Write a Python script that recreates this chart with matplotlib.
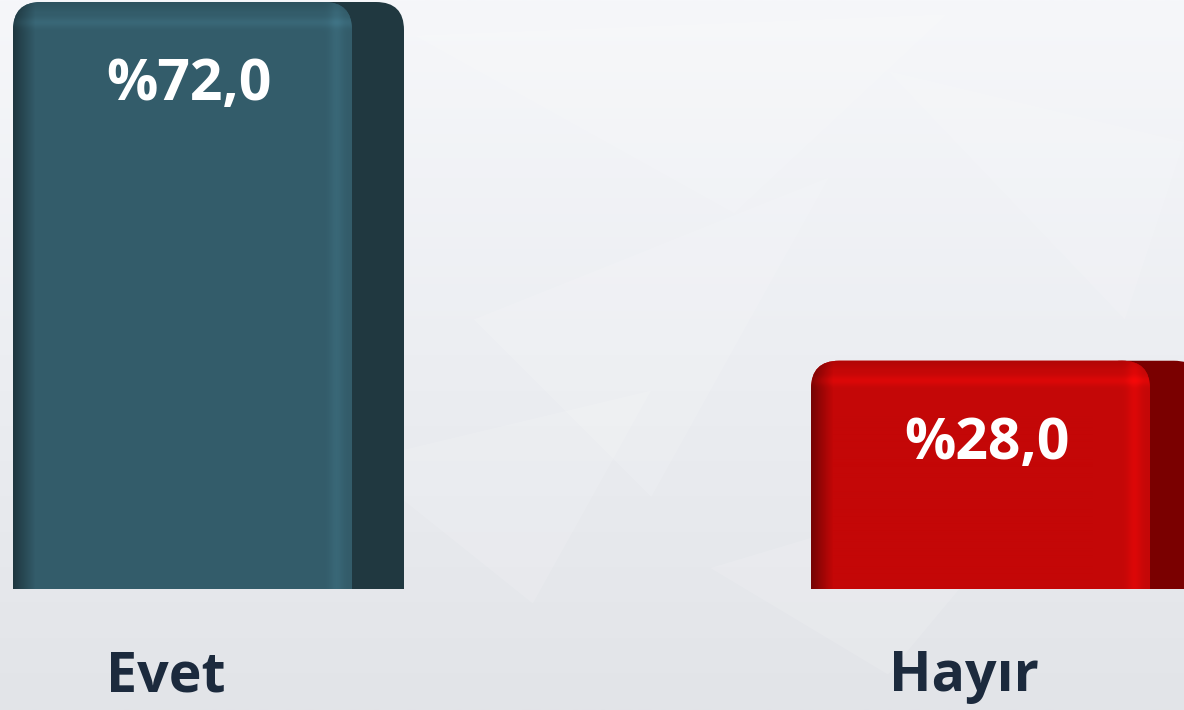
import numpy as np
import matplotlib
matplotlib.use("Agg")
import matplotlib.pyplot as plt
import matplotlib.colors as mcolors
from matplotlib.patches import FancyBboxPatch, Polygon

# ---- data ----
categories = ["Evet", "Hayır"]
values = [72.0, 28.0]
value_labels = ["%72,0", "%28,0"]
front_colors = ["#335C6A", "#C40707"]
side_colors = ["#203840", "#7A0000"]

W, H = 1184, 710
DPI = 100
fig = plt.figure(figsize=(W / DPI, H / DPI), dpi=DPI)

# background gradient
bg = fig.add_axes([0, 0, 1, 1])
bg.axis("off")
grad = np.linspace(0, 1, 256)[:, None]
bgcmap = mcolors.LinearSegmentedColormap.from_list("bg", ["#f6f7fa", "#eceef2", "#e2e4e8"])
bg.imshow(grad, aspect="auto", cmap=bgcmap, extent=[0, 1, 0, 1], origin="upper", zorder=0)
# faint facets
facets = [
    [(0.35, 0.95), (0.62, 0.70), (0.80, 0.98)],
    [(0.40, 0.55), (0.70, 0.75), (0.55, 0.30)],
    [(0.75, 0.90), (1.0, 0.80), (0.95, 0.55)],
    [(0.30, 0.35), (0.55, 0.45), (0.45, 0.15)],
    [(0.60, 0.20), (0.90, 0.35), (0.75, 0.05)],
]
for f in facets:
    bg.add_patch(Polygon(f, closed=True, facecolor="white", alpha=0.12,
                         edgecolor="none", transform=bg.transAxes))
bg.set_xlim(0, 1)
bg.set_ylim(0, 1)

# main axes: y=0 at pixel 589 from top, y=72 at pixel 2
bottom_px, top_px = 589, 2
ax = fig.add_axes([0, (H - bottom_px) / H, 1, (bottom_px - top_px) / H])
ax.patch.set_alpha(0)
ax.axis("off")
px_per_x = 798.0
xleft = -182.5 / px_per_x
ax.set_xlim(xleft, xleft + W / px_per_x)
ymax = 72.0
ax.set_ylim(0, ymax)
px_per_y = (bottom_px - top_px) / ymax

x = np.arange(len(categories))
bar_w = 339 / px_per_x
bars = ax.bar(x, values, width=bar_w, color=front_colors)

side_w = 52 / px_per_x
r_px = 28
r_x = r_px / px_per_x
aspect = px_per_x / px_per_y


def shade_image(base, w_px, h_px):
    base = np.array(mcolors.to_rgb(base))
    u = np.arange(w_px)[None, :]
    v = np.arange(h_px)[:, None]
    fac = np.ones((h_px, w_px))
    # left dark edge
    fac *= np.where(u < 22, 0.6 + 0.4 * (u / 22.0), 1.0)
    # right highlight stripe
    fac *= 1 + 0.12 * np.exp(-((u - (w_px - 16)) / 7.0) ** 2)
    # top highlight band
    fac *= 1 + 0.12 * np.exp(-((v - 20) / 5.0) ** 2)
    # very top darker
    fac *= np.where(v < 10, 0.9 + 0.1 * (v / 10.0), 1.0)
    img = np.clip(base[None, None, :] * fac[:, :, None], 0, 1)
    return img


for bar, fc, sc in zip(bars, front_colors, side_colors):
    bx, bw, bh = bar.get_x(), bar.get_width(), bar.get_height()
    bar.set_visible(False)
    # side face
    side = FancyBboxPatch((bx + bw - r_x * 2, -10), side_w + r_x * 2, bh + 10,
                          boxstyle=f"round,pad=0,rounding_size={r_x}",
                          mutation_aspect=aspect, facecolor=sc, edgecolor="none", zorder=2)
    ax.add_patch(side)
    # front face
    front = FancyBboxPatch((bx, -10), bw, bh + 10,
                           boxstyle=f"round,pad=0,rounding_size={r_x}",
                           mutation_aspect=aspect, facecolor=fc, edgecolor="none", zorder=3)
    ax.add_patch(front)
    h_px = int(round(bh * px_per_y))
    w_px = int(round(bw * px_per_x))
    img = shade_image(fc, w_px, h_px)
    im = ax.imshow(img, extent=[bx, bx + bw, 0, bh], origin="upper",
                   aspect="auto", zorder=4, interpolation="bilinear")
    im.set_clip_path(front)

ax.set_xlim(xleft, xleft + W / px_per_x)
ax.set_ylim(0, ymax)

pt = 72.0 / DPI
for xi, val, lab in zip(x, values, value_labels):
    ax.annotate(lab, xy=(xi, val), xytext=(6 * pt, -83 * pt), textcoords="offset points",
                ha="center", va="center", color="white", fontsize=41,
                fontweight="bold", family="Open Sans", zorder=6)

for xi, cat in zip(x, categories):
    ax.annotate(cat, xy=(xi, 0), xytext=(-17 * pt, -88 * pt), textcoords="offset points",
                ha="center", va="center", color="#1C2A3D", fontsize=40,
                fontweight="bold", family="Open Sans", annotation_clip=False, zorder=6)

fig.savefig("out.png", dpi=DPI)
